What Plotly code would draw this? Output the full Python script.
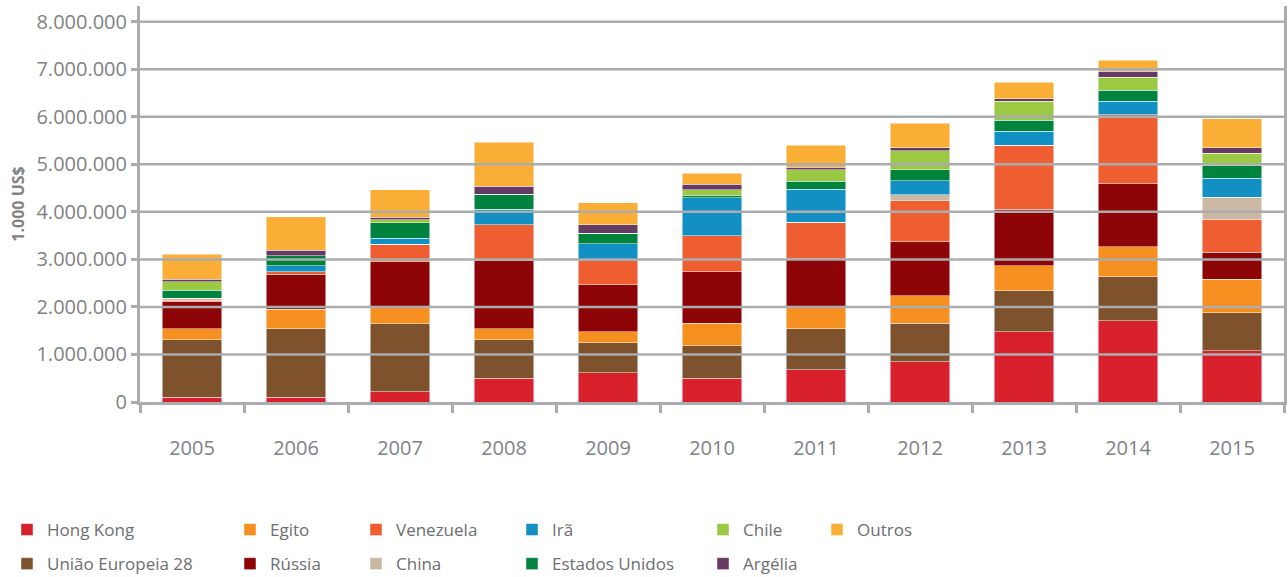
import plotly.graph_objects as go

# valores em 1.000 US$
anos = ['2005', '2006', '2007', '2008', '2009', '2010', '2011', '2012', '2013', '2014', '2015']

hong_kong = [100000, 100000, 217000, 500000, 617000, 500000, 674000, 849000, 1480000, 1712000, 1081000]
uniao_europeia = [1205000, 1437000, 1432000, 805000, 631000, 685000, 863000, 807000, 863000, 926000, 800000]
egito = [232000, 415000, 357000, 232000, 232000, 471000, 470000, 582000, 527000, 632000, 703000]
russia = [573000, 736000, 948000, 1431000, 983000, 1088000, 1020000, 1137000, 1186000, 1326000, 561000]
venezuela = [20000, 56000, 366000, 758000, 505000, 756000, 758000, 863000, 1340000, 1446000, 701000]
china = [50000, 0, 0, 0, 0, 0, 0, 120000, 0, 0, 456000]
ira = [0, 118000, 120000, 330000, 358000, 800000, 694000, 295000, 295000, 288000, 408000]
estados_unidos = [170000, 218000, 335000, 310000, 225000, 50000, 160000, 231000, 232000, 224000, 259000]
chile = [175000, 0, 56000, 0, 0, 120000, 246000, 400000, 400000, 282000, 260000]
argelia = [56000, 112000, 56000, 168000, 175000, 110000, 49000, 63000, 56000, 119000, 119000]
outros = [527000, 700000, 583000, 927000, 470000, 230000, 463000, 520000, 350000, 231000, 611000]

y_ticks = [0, 1000000, 2000000, 3000000, 4000000, 5000000, 6000000, 7000000, 8000000]

# ordem de empilhamento (baixo para cima)
series = [
    ('Hong Kong', hong_kong, '#d7202b', 'legend'),
    ('União Europeia 28', uniao_europeia, '#7f522e', 'legend'),
    ('Egito', egito, '#f58f20', 'legend2'),
    ('Rússia', russia, '#8e0508', 'legend2'),
    ('Venezuela', venezuela, '#ef5e30', 'legend3'),
    ('China', china, '#cbb8a3', 'legend3'),
    ('Irã', ira, '#1290c3', 'legend4'),
    ('Estados Unidos', estados_unidos, '#00843d', 'legend4'),
    ('Chile', chile, '#9bc943', 'legend5'),
    ('Argélia', argelia, '#653a63', 'legend5'),
    ('Outros', outros, '#fbae36', 'legend6'),
]

fig = go.Figure()
for nome, valores, cor, leg in series:
    fig.add_trace(go.Bar(
        x=anos,
        y=valores,
        name=nome,
        marker_color=cor,
        marker_line=dict(color='rgba(255,255,255,0.6)', width=0.8),
        legend=leg,
        legendgroup=nome,
    ))

grid_color = '#abacae'
text_color = '#808285'
legend_color = '#6d6e71'

# linhas de grade por cima das barras
for v in y_ticks[1:]:
    fig.add_shape(type='line', xref='paper', x0=0, x1=1, yref='y', y0=v, y1=v,
                  layer='above', line=dict(color=grid_color, width=2.5))

plot_left = 140
plot_w = 1144
plot_bottom = 402
plot_h = 396

def lx(px):
    return (px - plot_left) / plot_w

def ly(py):
    return (plot_bottom - py) / plot_h

col_text = [47, 270, 396, 552, 743, 857]
legend_font = dict(family='Open Sans', size=17, color=legend_color)
leg_names = ['legend', 'legend2', 'legend3', 'legend4', 'legend5', 'legend6']
legends = {}
for name, tx in zip(leg_names, col_text):
    legends[name] = dict(
        x=lx(tx - 40), xanchor='left',
        y=ly(512), yanchor='top',
        orientation='v',
        traceorder='grouped',
        tracegroupgap=9,
        font=legend_font,
        bgcolor='rgba(0,0,0,0)',
    )

fig.update_layout(
    width=1288,
    height=577,
    margin=dict(l=140, r=4, t=6, b=175, autoexpand=False),
    paper_bgcolor='white',
    plot_bgcolor='white',
    barmode='stack',
    bargap=0.43,
    separators=',.',
    font=dict(family='Open Sans', color=text_color),
    showlegend=True,
    **legends,
)

fig.update_xaxes(
    type='category',
    tickson='boundaries',
    ticks='outside',
    ticklen=8,
    tickwidth=2.5,
    tickcolor=grid_color,
    showline=True,
    linecolor=grid_color,
    linewidth=3,
    layer='above traces',
    automargin=False,
    tickfont=dict(family='Open Sans', size=20, color=text_color),
    ticklabelstandoff=26,
)

fig.update_yaxes(
    range=[0, 8330000],
    tickvals=y_ticks,
    tickformat=',d',
    ticks='outside',
    ticklen=6,
    tickwidth=2.5,
    tickcolor=grid_color,
    showgrid=False,
    zeroline=False,
    showline=True,
    mirror=True,
    linecolor=grid_color,
    linewidth=3,
    layer='above traces',
    automargin=False,
    tickfont=dict(family='Open Sans', size=20, color=text_color),
    title=dict(text='<b>1.000 US$</b>', font=dict(family='Open Sans', size=16, color=text_color), standoff=8),
)

fig.write_html('out.html', config={'displayModeBar': False},
               post_script="document.body.style.margin='0';")
